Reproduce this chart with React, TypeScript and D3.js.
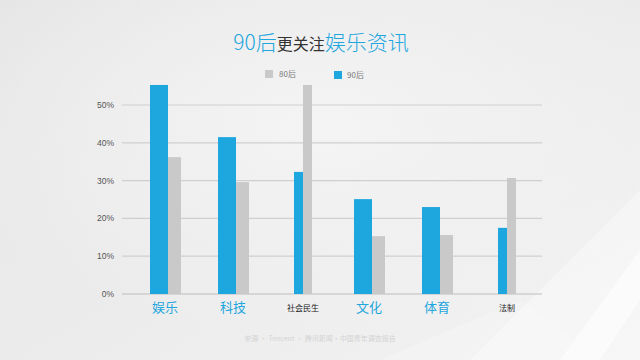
import React from "react";
import * as d3 from "d3";

const categories = ["娱乐", "科技", "社会民生", "文化", "体育", "法制"];
const values90 = [55.3, 41.5, 32.3, 25.1, 23.0, 17.5];
const values80 = [36.2, 29.6, 55.3, 15.3, 15.6, 30.7];
const yTicks = [0, 10, 20, 30, 40, 50];
const seriesNames = ["80后", "90后"];

export default function App() {
	const width = 640;
	const height = 360;
	const marginLeft = 122;
	const marginRight = 98;
	const plotBottom = 294;

	const blue = "#1ea6de";
	const grey = "#c9c9c9";

	// scales
	const x = d3
		.scalePoint<string>()
		.domain(categories)
		.range([166, 506]);

	const y = d3
		.scaleLinear()
		.domain([0, 60])
		.range([plotBottom, plotBottom - 60 * 3.78]);

	return (
		<svg
			width={width}
			height={height}
			style={{ position: "fixed", left: 0, top: 0 }}
			fontFamily="'Noto Sans CJK SC', 'Noto Sans', sans-serif"
		>
			<defs>
				<linearGradient id="bg" x1="0" y1="0" x2="1" y2="1">
					<stop offset="0%" stopColor="#e6e6e6" />
					<stop offset="55%" stopColor="#ececec" />
					<stop offset="100%" stopColor="#f3f3f3" />
				</linearGradient>
				<radialGradient id="glow" cx="0.5" cy="0.35" r="0.6">
					<stop offset="0%" stopColor="#f4f4f4" />
					<stop offset="100%" stopColor="#f4f4f4" stopOpacity={0} />
				</radialGradient>
			</defs>
			<rect width={width} height={height} fill="url(#bg)" />
			<rect width={width} height={height} fill="url(#glow)" />
			{/* faint light shapes bottom-right */}
			<path d="M470,360 L640,190 L640,360 Z" fill="#ffffff" opacity={0.35} />
			<path d="M560,360 L640,250 L640,300 L600,360 Z" fill="#ffffff" opacity={0.5} />
			<path d="M380,360 L520,300 L600,360 Z" fill="#ffffff" opacity={0.2} />

			{/* title */}
			<text x={321} y={50} textAnchor="middle" fontWeight={300}>
				<tspan fill={blue} fontSize={21}>90后</tspan>
				<tspan fill="#333" fontSize={16} fontWeight={400}>更关注</tspan>
				<tspan fill={blue} fontSize={21}>娱乐资讯</tspan>
			</text>

			{/* legend */}
			<g fontSize={8} fill="#777">
				<rect x={265} y={70} width={8} height={8} fill={grey} />
				<text x={279} y={77}>{seriesNames[0]}</text>
				<rect x={334} y={71} width={8} height={8} fill={blue} />
				<text x={347} y={78}>{seriesNames[1]}</text>
			</g>

			{/* grid + y axis */}
			<g>
				{yTicks.map((t) => (
					<g key={t}>
						<line
							x1={marginLeft}
							x2={width - marginRight}
							y1={y(t)}
							y2={y(t)}
							stroke={t === 0 ? "#bdbdbd" : "#cfcfcf"}
							strokeWidth={1.2}
						/>
						<text
							x={114}
							y={y(t)}
							dy="0.35em"
							textAnchor="end"
							fontSize={8.5}
							fill="#555"
							fontFamily="Arial, 'Liberation Sans', sans-serif"
						>
							{t}%
						</text>
					</g>
				))}
			</g>

			{/* bars */}
			{categories.map((c, i) => {
				const cx = x(c) || 0;
				const wide = values90[i] > values80[i];
				const split = wide ? cx + 2 : cx + 1;
				const wBlue = wide ? 18 : 9;
				const wGrey = wide ? 13 : 9;
				return (
					<g key={c}>
						<rect
							x={split - wBlue}
							y={y(values90[i])}
							width={wBlue}
							height={plotBottom - y(values90[i])}
							fill={blue}
						/>
						<rect
							x={split}
							y={y(values80[i])}
							width={wGrey}
							height={plotBottom - y(values80[i])}
							fill={grey}
						/>
						<text
							x={split - (wide ? 3 : 0)}
							y={wide ? 312 : 311}
							textAnchor="middle"
							fontSize={wide ? 13 : 8}
							fill={wide ? blue : "#222"}
						>
							{c}
						</text>
					</g>
				);
			})}

			{/* source */}
			<text
				x={320}
				y={341}
				textAnchor="middle"
				fontSize={7}
				fill="#d4d4d4"
			>
				来源 · Tencent · 腾讯新闻·中国青年调查报告
			</text>
		</svg>
	);
}
